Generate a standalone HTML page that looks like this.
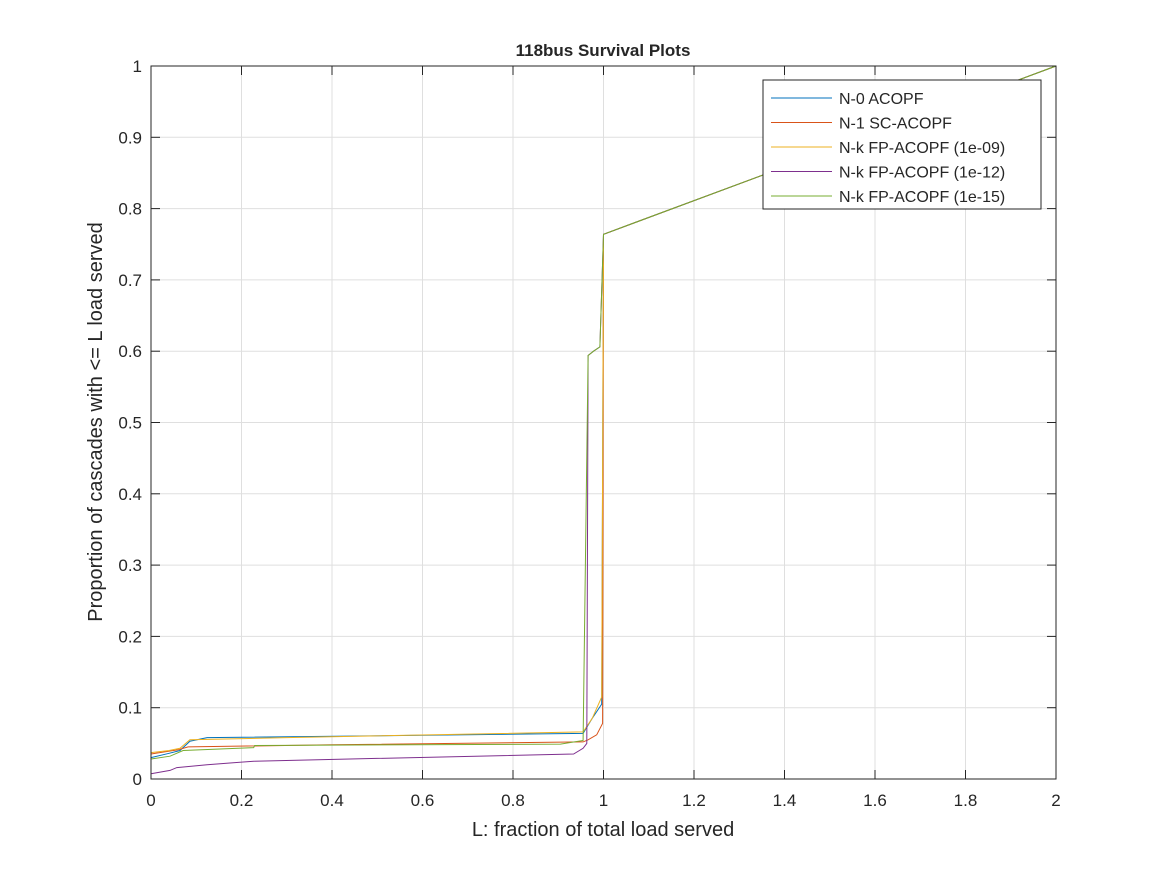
<!DOCTYPE html>
<html><head><meta charset="utf-8"><style>
body{margin:0;background:#fff;font-family:"Liberation Sans",Arial,sans-serif}
svg text{font-family:"Liberation Sans",Arial,sans-serif;fill:#262626}
</style></head><body>
<svg id="chart" width="1167" height="875" viewBox="0 0 1167 875" xmlns="http://www.w3.org/2000/svg">
<rect width="1167" height="875" fill="#fff"/>
<g id="grid"></g>
<g id="series"></g>
<rect x="151" y="66" width="905" height="713" fill="none" stroke="#262626" stroke-width="1"/>
<g id="ticks"></g>
<text x="603" y="56" text-anchor="middle" font-size="17" font-weight="bold">118bus Survival Plots</text>
<text x="603" y="836" text-anchor="middle" font-size="20">L: fraction of total load served</text>
<text transform="translate(102,422) rotate(-90)" text-anchor="middle" font-size="20">Proportion of cascades with &lt;= L load served</text>
<g id="legend">
<rect x="763" y="80" width="278" height="129" fill="#fff" stroke="#262626" stroke-width="1"/>
</g>
</svg>
<script>
const xTicks=[0,0.2,0.4,0.6,0.8,1,1.2,1.4,1.6,1.8,2];
const yTicks=[0,0.1,0.2,0.3,0.4,0.5,0.6,0.7,0.8,0.9,1];
const seriesNames=["N-0 ACOPF","N-1 SC-ACOPF","N-k FP-ACOPF (1e-09)","N-k FP-ACOPF (1e-12)","N-k FP-ACOPF (1e-15)"];
const colors=["#0072BD","#D95319","#EDB120","#7E2F8E","#77AC30"];
const xN0=[0,0.04,0.064,0.086,0.124,0.7,0.955,0.975,0.996,1.0,2];
const yN0=[0.030,0.036,0.040,0.053,0.058,0.062,0.064,0.085,0.105,0.764,1];
const xN1=[0,0.06,0.082,0.4,0.955,0.966,0.985,0.998,1.0,2];
const yN1=[0.035,0.041,0.045,0.048,0.052,0.055,0.062,0.078,0.764,1];
const x109=[0,0.04,0.064,0.086,0.3,0.7,0.955,0.975,0.996,1.0,2];
const y109=[0.037,0.040,0.043,0.055,0.058,0.063,0.066,0.085,0.115,0.764,1];
const x112=[0,0.042,0.057,0.124,0.227,0.934,0.955,0.963,0.966,0.978,0.992,1.0,2];
const y112=[0.0075,0.012,0.016,0.020,0.025,0.035,0.043,0.050,0.594,0.600,0.606,0.764,1];
const x115=[0,0.042,0.071,0.227,0.229,0.905,0.955,0.966,0.978,0.992,1.0,2];
const y115=[0.028,0.032,0.040,0.044,0.047,0.049,0.054,0.594,0.600,0.606,0.764,1];
const xs=[xN0,xN1,x109,x112,x115], ys=[yN0,yN1,y109,y112,y115];
const NS="http://www.w3.org/2000/svg";
const sx=v=>151+v*452.5, sy=v=>779-v*713;
const grid=document.getElementById('grid'),ticks=document.getElementById('ticks'),ser=document.getElementById('series'),leg=document.getElementById('legend');
function mk(t,a,p){const e=document.createElementNS(NS,t);for(const k in a)e.setAttribute(k,a[k]);p.appendChild(e);return e;}
xTicks.forEach(v=>{
 const g=mk('line',{x1:sx(v),x2:sx(v),y1:66,y2:779,stroke:'#dfdfdf','stroke-width':1},grid);
 
 
 mk('line',{x1:sx(v),x2:sx(v),y1:779,y2:770,stroke:'#262626'},ticks);
 mk('line',{x1:sx(v),x2:sx(v),y1:66,y2:75,stroke:'#262626'},ticks);
 const t=mk('text',{x:sx(v),y:806,'text-anchor':'middle','font-size':17},ticks);t.textContent=String(v);
 
 
});
yTicks.forEach(v=>{
 const g=mk('line',{x1:151,x2:1056,y1:sy(v),y2:sy(v),stroke:'#dfdfdf','stroke-width':1},grid);
 
 
 mk('line',{x1:151,x2:160,y1:sy(v),y2:sy(v),stroke:'#262626'},ticks);
 mk('line',{x1:1056,x2:1047,y1:sy(v),y2:sy(v),stroke:'#262626'},ticks);
 const t=mk('text',{x:142,y:sy(v)+6,'text-anchor':'end','font-size':17},ticks);t.textContent=String(v);
 
 
});
seriesNames.forEach((n,i)=>{
 const pts=xs[i].map((x,j)=>sx(x).toFixed(1)+','+sy(ys[i][j]).toFixed(1)).join(' ');
 const p=mk('polyline',{points:pts,fill:'none',stroke:colors[i],'stroke-width':1},ser);
 
 
 const y=98+i*24.5;
 const l=mk('line',{x1:771,x2:832,y1:y,y2:y,stroke:colors[i],'stroke-width':1},leg);
 
 
 const t=mk('text',{x:839,y:y+6,'font-size':16},leg);t.textContent=n;
 
 
});
</script>
</body></html>
